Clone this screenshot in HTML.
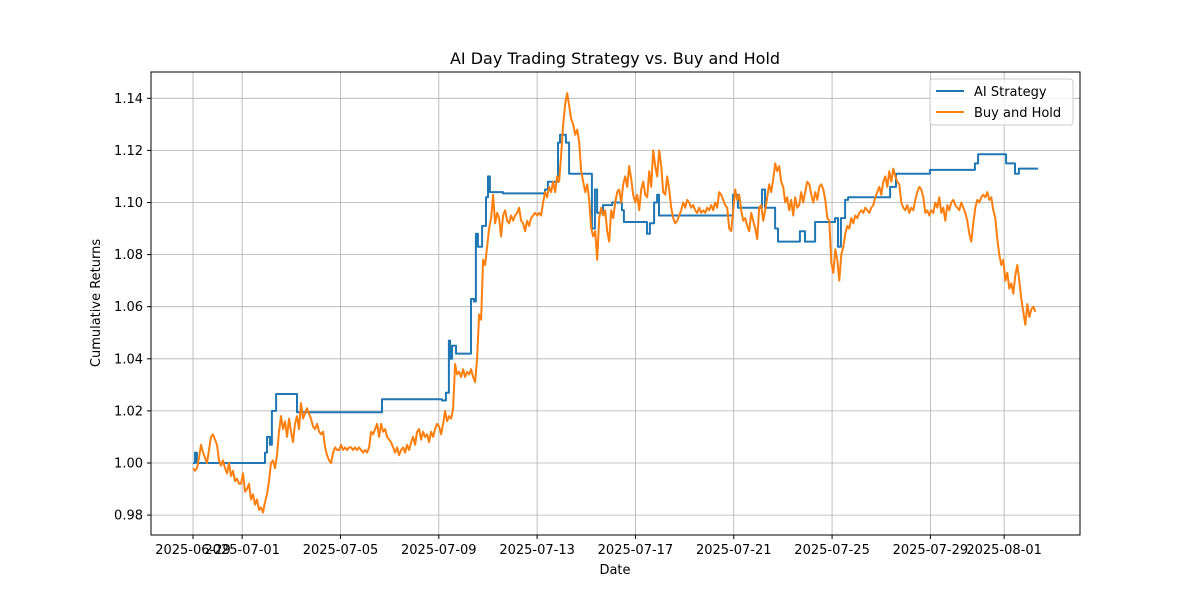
<!DOCTYPE html>
<html><head><meta charset="utf-8"><style>
body{margin:0;background:#fff;font-family:"Liberation Sans","DejaVu Sans",sans-serif}
</style></head><body>
<svg id="chart" width="1200" height="600" xmlns="http://www.w3.org/2000/svg" font-family="DejaVu Sans, Liberation Sans, sans-serif">
<rect width="1200" height="600" fill="#fff"/>
<g id="grid"></g>
<g id="series"></g>
<rect x="151" y="72" width="929" height="463" fill="none" stroke="#000" stroke-width="1"/>
<g id="ticks"></g>
<text x="615" y="64" font-size="16" text-anchor="middle">AI Day Trading Strategy vs. Buy and Hold</text>
<text x="615" y="574" font-size="13" text-anchor="middle">Date</text>
<text x="0" y="0" font-size="13" text-anchor="middle" transform="translate(100,303) rotate(-90)">Cumulative Returns</text>
<g>
<rect x="930" y="79" width="143" height="46" rx="3" fill="#fff" fill-opacity="0.8" stroke="#ccc"/>
<line x1="936" y1="91" x2="964" y2="91" stroke="#1f77b4" stroke-width="2"/>
<text x="974" y="96" font-size="13">AI Strategy</text>
<line x1="936" y1="112" x2="964" y2="112" stroke="#ff7f0e" stroke-width="2"/>
<text x="974" y="117" font-size="13">Buy and Hold</text>
</g>
</svg>
<script>
const yTicks=[0.98,1.00,1.02,1.04,1.06,1.08,1.10,1.12,1.14];
const xTickDays=[0,2,6,10,14,18,22,26,30,33];
const xTickLabels=["2025-06-29","2025-07-01","2025-07-05","2025-07-09","2025-07-13","2025-07-17","2025-07-21","2025-07-25","2025-07-29","2025-08-01"];
const aiDays=[0,0.08,0.16,0.3,2.85,2.93,3.01,3.13,3.21,3.38,4.03,4.23,7.28,7.69,10.05,10.13,10.29,10.41,10.46,10.54,10.70,11.27,11.31,11.43,11.51,11.59,11.76,11.92,12.00,12.08,12.57,12.61,14.24,14.32,14.44,14.73,14.85,14.93,15.17,15.30,16.19,16.23,16.35,16.44,16.68,17.05,17.45,17.53,18.43,18.47,18.59,18.76,18.88,18.96,21.93,21.97,22.17,23.07,23.15,23.27,23.68,23.80,24.57,24.69,24.90,25.22,25.31,26.00,26.12,26.24,26.36,26.53,26.65,28.27,28.36,28.60,29.86,29.98,31.69,31.81,31.94,32.99,33.08,33.32,33.44,33.60,34.38];
const aiValues=[1.000,1.004,1.000,1.000,1.000,1.004,1.010,1.007,1.020,1.0265,1.0265,1.0195,1.0195,1.0245,1.0245,1.024,1.027,1.047,1.040,1.045,1.042,1.042,1.063,1.062,1.088,1.083,1.091,1.102,1.110,1.104,1.104,1.1035,1.1035,1.105,1.108,1.108,1.123,1.126,1.123,1.111,1.111,1.090,1.105,1.096,1.099,1.100,1.097,1.0925,1.0925,1.088,1.092,1.100,1.103,1.095,1.095,1.103,1.098,1.098,1.105,1.098,1.090,1.085,1.085,1.089,1.085,1.085,1.0925,1.0925,1.094,1.083,1.094,1.101,1.102,1.102,1.106,1.111,1.111,1.1125,1.1125,1.115,1.1185,1.1185,1.115,1.115,1.111,1.113,1.113];
const bhStepDays=0.0814;
const bhValues=[0.998,0.997,0.998,1.002,1.007,1.004,1.002,1.000,1.005,1.010,1.011,1.009,1.007,1.001,0.999,1.001,0.998,0.996,1.000,0.995,0.997,0.993,0.994,0.992,0.992,0.996,0.989,0.990,0.992,0.986,0.988,0.984,0.986,0.982,0.983,0.981,0.985,0.988,0.993,1.000,1.001,0.998,1.003,1.012,1.018,1.013,1.016,1.010,1.017,1.012,1.008,1.015,1.018,1.013,1.023,1.017,1.019,1.021,1.019,1.017,1.014,1.013,1.015,1.012,1.011,1.012,1.006,1.003,1.001,1.000,1.004,1.006,1.005,1.005,1.007,1.005,1.006,1.005,1.006,1.006,1.005,1.006,1.005,1.006,1.005,1.004,1.005,1.004,1.006,1.012,1.011,1.013,1.015,1.010,1.015,1.012,1.013,1.010,1.009,1.008,1.006,1.004,1.006,1.003,1.005,1.006,1.004,1.007,1.005,1.008,1.010,1.007,1.012,1.013,1.009,1.012,1.010,1.011,1.008,1.012,1.010,1.013,1.015,1.014,1.011,1.015,1.020,1.016,1.018,1.017,1.021,1.038,1.034,1.035,1.033,1.036,1.033,1.035,1.034,1.036,1.033,1.031,1.040,1.057,1.055,1.078,1.076,1.083,1.090,1.094,1.103,1.092,1.096,1.094,1.087,1.095,1.097,1.093,1.092,1.095,1.093,1.095,1.096,1.098,1.093,1.092,1.089,1.093,1.091,1.094,1.095,1.096,1.095,1.096,1.095,1.100,1.104,1.102,1.106,1.104,1.108,1.104,1.110,1.108,1.118,1.130,1.138,1.142,1.137,1.132,1.130,1.126,1.128,1.123,1.112,1.108,1.104,1.107,1.101,1.090,1.087,1.089,1.078,1.094,1.098,1.095,1.097,1.089,1.085,1.097,1.094,1.100,1.104,1.105,1.100,1.107,1.110,1.106,1.114,1.109,1.103,1.100,1.103,1.097,1.105,1.108,1.103,1.102,1.112,1.106,1.120,1.114,1.110,1.120,1.114,1.104,1.103,1.110,1.105,1.098,1.094,1.092,1.093,1.095,1.097,1.100,1.098,1.101,1.100,1.098,1.099,1.097,1.096,1.098,1.096,1.097,1.096,1.098,1.097,1.099,1.097,1.100,1.098,1.104,1.103,1.101,1.099,1.098,1.090,1.089,1.097,1.105,1.101,1.103,1.097,1.093,1.094,1.091,1.089,1.096,1.093,1.090,1.086,1.098,1.099,1.093,1.097,1.102,1.107,1.104,1.109,1.115,1.112,1.114,1.108,1.106,1.100,1.102,1.097,1.101,1.095,1.102,1.098,1.099,1.104,1.100,1.104,1.108,1.107,1.103,1.100,1.104,1.101,1.106,1.107,1.105,1.101,1.094,1.093,1.077,1.073,1.082,1.078,1.070,1.080,1.083,1.088,1.091,1.090,1.094,1.092,1.095,1.094,1.096,1.097,1.096,1.098,1.097,1.096,1.098,1.099,1.102,1.104,1.106,1.103,1.108,1.110,1.106,1.112,1.108,1.113,1.110,1.108,1.107,1.100,1.098,1.097,1.099,1.096,1.098,1.097,1.101,1.104,1.106,1.105,1.102,1.096,1.097,1.095,1.097,1.096,1.100,1.098,1.102,1.096,1.098,1.093,1.099,1.097,1.100,1.101,1.099,1.098,1.097,1.100,1.098,1.096,1.093,1.088,1.085,1.092,1.098,1.101,1.100,1.102,1.103,1.102,1.104,1.101,1.102,1.097,1.094,1.086,1.080,1.076,1.078,1.070,1.073,1.067,1.069,1.065,1.072,1.076,1.070,1.063,1.058,1.053,1.061,1.056,1.059,1.060,1.058];

const NS="http://www.w3.org/2000/svg";
const X0=193, PXD=24.58, Y1=463, PXV=2605;
function xs(d){return X0+d*PXD;}
function ys(v){return Y1-(v-1)*PXV;}
function mk(tag,attrs,parent){const e=document.createElementNS(NS,tag);for(const k in attrs)e.setAttribute(k,attrs[k]);parent.appendChild(e);return e;}
const grid=document.getElementById('grid'), ticks=document.getElementById('ticks'), series=document.getElementById('series');
yTicks.forEach(v=>{
  const y=ys(v);
  const g=mk('line',{x1:151,x2:1080,y1:y,y2:y,stroke:'#b0b0b0','stroke-width':0.8},grid);
  
  
  mk('line',{x1:147,x2:151,y1:y,y2:y,stroke:'#000'},ticks);
  const t=mk('text',{x:143,y:y+4.5,'font-size':13,'text-anchor':'end'},ticks);
  t.textContent=v.toFixed(2);
  
  
});
xTickDays.forEach((d,i)=>{
  const x=xs(d);
  const g=mk('line',{x1:x,x2:x,y1:72,y2:535,stroke:'#b0b0b0','stroke-width':0.8},grid);
  
  
  mk('line',{x1:x,x2:x,y1:535,y2:539,stroke:'#000'},ticks);
  const t=mk('text',{x:x,y:554,'font-size':13,'text-anchor':'middle'},ticks);
  t.textContent=xTickLabels[i];
  
  
});
const aiArr=[];
aiDays.forEach((d,i)=>{
  if(i>0) aiArr.push(xs(d).toFixed(1)+','+ys(aiValues[i-1]).toFixed(1));
  aiArr.push(xs(d).toFixed(1)+','+ys(aiValues[i]).toFixed(1));
});
const ai=mk('polyline',{points:aiArr.join(' '),fill:'none',stroke:'#1f77b4','stroke-width':2,'stroke-linejoin':'round'},series);


const bhPts=bhValues.map((v,i)=>xs(i*bhStepDays).toFixed(1)+','+ys(v).toFixed(1)).join(' ');
const bh=mk('polyline',{points:bhPts,fill:'none',stroke:'#ff7f0e','stroke-width':2,'stroke-linejoin':'round'},series);


</script>
</body></html>
